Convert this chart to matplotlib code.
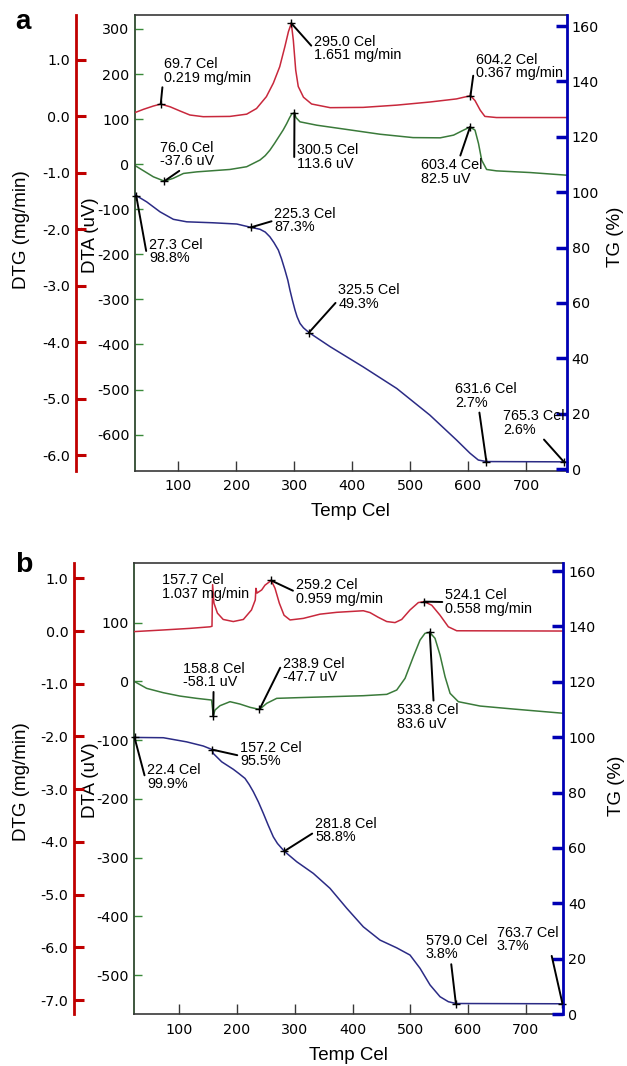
import matplotlib
matplotlib.use('Agg')
import matplotlib.pyplot as plt

plt.rcParams['font.family'] = ['Liberation Sans', 'DejaVu Sans']
plt.rcParams['axes.unicode_minus'] = False

# ---------------- Panel a data ----------------
a_temp_dtg = [22, 40, 57, 69.7, 86, 103, 120, 143, 189, 218, 235, 252, 264, 275, 284, 290,
              295.0, 298.5, 302.6, 307, 316, 330, 362, 419, 477, 534, 580, 604.2, 612, 621,
              629, 649, 770]
a_dtg = [0.055, 0.126, 0.184, 0.219, 0.17, 0.096, 0.025, -0.005, 0.0, 0.04, 0.14, 0.35, 0.59,
         0.88, 1.24, 1.50, 1.651, 1.35, 0.82, 0.53, 0.34, 0.22, 0.155, 0.16, 0.20, 0.255, 0.31,
         0.367, 0.28, 0.11, 0.0, -0.02, -0.02]

a_temp_dta = [24, 40, 57, 76.0, 91, 109, 132, 189, 218, 241, 250, 258, 266, 275, 281, 287, 292,
              296, 300.5, 303, 310, 339, 391, 448, 505, 552, 575, 592, 603.4, 612, 618, 623.5,
              632, 649, 707, 770]
a_dta = [-2, -14.6, -28, -37.6, -31.5, -20.5, -17, -11.7, -5.6, 9.3, 19, 31, 46, 64, 76, 90,
         103, 112, 113.6, 103.5, 94, 86.5, 77, 66.5, 59, 58.5, 64.5, 75.5, 82.5, 75.5, 46, 9,
         -11.7, -14.8, -18.5, -24.4]

a_temp_tg = [25.3, 27.3, 45.5, 68.5, 91.5, 114.5, 160, 201, 225.3, 241, 250, 258, 265, 272.6,
             278, 284, 289, 292.7, 297, 301.4, 305, 310, 316, 325.5, 362, 419, 477, 534, 580,
             603.4, 617.7, 631.6, 765.3, 770]
a_tg = [99.2, 98.8, 96.5, 92.9, 90.2, 89.3, 88.95, 88.5, 87.3, 86.6, 85.6, 83.9, 81.8, 79.1,
        76.0, 71.9, 68.2, 64.6, 60.9, 57.4, 55.0, 52.6, 51.0, 49.3, 44.2, 36.9, 29.1, 19.5,
        10.5, 5.7, 3.25, 2.7, 2.6, 2.6]

a_ann_series = ['dtg', 'dtg', 'dtg', 'dta', 'dta', 'dta', 'tg', 'tg', 'tg', 'tg', 'tg']
a_ann_temp = [69.7, 295.0, 604.2, 76.0, 300.5, 603.4, 27.3, 225.3, 325.5, 631.6, 765.3]
a_ann_value = [0.219, 1.651, 0.367, -37.6, 113.6, 82.5, 98.8, 87.3, 49.3, 2.7, 2.6]

# ---------------- Panel b data ----------------
b_temp_dtg = [23, 72, 118, 153, 156.6, 157.7, 160, 166, 176, 193.5, 211, 225, 231.6, 232.7,
              234.6, 242.7, 248.4, 259.2, 265.8, 273.2, 281.4, 291.8, 314.8, 343.7, 372.6,
              418.7, 430.3, 444.7, 459.3, 473.6, 485.2, 499.6, 514, 524.1, 537.2, 551.6, 566,
              580.5, 766]
b_dtg = [-0.01, 0.02, 0.05, 0.08, 0.09, 0.88, 0.53, 0.34, 0.22, 0.18, 0.22, 0.40, 0.59, 0.81,
         0.72, 0.78, 0.87, 0.959, 0.81, 0.53, 0.30, 0.21, 0.24, 0.32, 0.355, 0.385, 0.35, 0.26,
         0.18, 0.16, 0.22, 0.40, 0.54, 0.558, 0.49, 0.30, 0.08, 0.005, 0.0]

b_temp_dta = [22, 43.5, 72.3, 101, 130, 156, 158.8, 161.8, 170.5, 187.8, 205, 222.5, 238.9,
              251.4, 268.7, 303.4, 361, 418.7, 459.3, 476.6, 491, 505.3, 517, 525.6, 533.8,
              542.9, 551.6, 560.3, 569, 583.3, 621, 678.6, 766]
b_dta = [0, -11.8, -19.2, -24.9, -28.8, -31.7, -58.1, -48.7, -41.3, -34.5, -38.5, -44.1, -47.7,
         -37.3, -28.8, -27.7, -26, -24.3, -22, -14.6, 5.3, 42, 70.5, 82, 83.6, 73.4, 45, 8,
         -20.3, -34.5, -41.9, -47, -54.3]

b_temp_tg = [22, 22.4, 72.3, 112.8, 141.6, 157.2, 158.9, 173.4, 193.5, 203, 213.8, 221, 228.2,
             237, 245.5, 254, 262.8, 270, 281.8, 303.4, 332.1, 361, 390, 418.7, 447.7, 476.6,
             499.6, 517, 534.3, 551.6, 566, 579.0, 763.7, 766]
b_tg = [100.0, 99.9, 99.8, 98.3, 96.8, 95.5, 94.1, 91.1, 88.4, 86.9, 85.1, 82.9, 80.3, 76.6,
        72.5, 68.2, 64.0, 61.6, 58.8, 55.0, 50.8, 45.4, 38.2, 31.5, 26.7, 23.9, 21.3, 16.5,
        10.5, 6.25, 4.45, 3.8, 3.7, 3.7]

b_ann_series = ['dtg', 'dtg', 'dtg', 'dta', 'dta', 'dta', 'tg', 'tg', 'tg', 'tg', 'tg']
b_ann_temp = [157.7, 259.2, 524.1, 158.8, 238.9, 533.8, 22.4, 157.2, 281.8, 579.0, 763.7]
b_ann_value = [1.037, 0.959, 0.558, -58.1, -47.7, 83.6, 99.9, 95.5, 58.8, 3.8, 3.7]

temp_ticks = [100, 200, 300, 400, 500, 600, 700]
tg_ticks = [0, 20, 40, 60, 80, 100, 120, 140, 160]
a_dta_ticks = [300, 200, 100, 0, -100, -200, -300, -400, -500, -600]
a_dtg_ticks = [1.0, 0.0, -1.0, -2.0, -3.0, -4.0, -5.0, -6.0]
b_dta_ticks = [100, 0, -100, -200, -300, -400, -500]
b_dtg_ticks = [1.0, 0.0, -1.0, -2.0, -3.0, -4.0, -5.0, -6.0, -7.0]

# ---------------- styles / layout ----------------
a_ann_offset = [(3.3, -47), (22.7, 11.8), (5.5, -42.7), (-4.4, -40.5), (2.8, 30.3),
                (-49.3, 31.3), (12.8, 42.3), (23.4, -20.6), (29.3, -49.2), (-31.4, -79.2),
                (-61.1, -52.5)]
a_ann_relpos = [(0, 0.5), (0, 0.5), (-0.02, 0.45), (0.43, 0), (-0.05, 0.5), (0.63, 1),
                (-0.05, 0.5), (0, 0.5), (0, 0.4), (0.39, 0), (0.63, 0)]
b_ann_offset = [(-50.9, -3), (24.5, -2.2), (20.9, -13.3), (-30.5, -53.8), (23.8, -52.7),
                (-33, 71), (12.8, 25.9), (27.7, -8.9), (30.7, -34.5), (-30.1, -69.5),
                (-65.8, -78.1)]
b_ann_relpos = [None, (0, 0.5), (0, 0.5), (0.5, 0), (-0.05, 0.6), (0.6, 1), (-0.05, 0.55),
                (0, 0.45), (0, 0.45), (0.41, 0), (0.85, 0.34)]

RED_SP = '#c00000'
RED_C = '#c8283c'
GREEN_SP = '#2f4a2f'
GREEN_TICK = '#3a8a3a'
GREEN_C = '#3a7a3a'
BLUE_SP = '#0000b4'
BLUE_C = '#2b2b85'
FRAME = '#383838'
TICKFONT = dict(fontfamily='DejaVu Sans', fontsize=10.3)

W, H = 627, 1066
fig = plt.figure(figsize=(W / 100, H / 100), dpi=100)


def fmt_label(series, t, v):
    if series == 'dtg':
        return f'{t:.1f} Cel\n{v:.3f} mg/min'
    if series == 'dta':
        return f'{t:.1f} Cel\n{v:.1f} uV'
    return f'{t:.1f} Cel\n{v:.1f}%'


def make_panel(rect, xlim, dta_lim, dtg_lim, tg_lim, dta_ticks, dtg_ticks,
               t_dtg, v_dtg, t_dta, v_dta, t_tg, v_tg,
               ann_series, ann_temp, ann_value, ann_offset, ann_relpos,
               red_out, lab_dtg, lab_dta, lab_tg, xlab_y):
    ax = fig.add_axes(rect)
    axr = ax.twinx()
    axb = ax.twinx()
    ax.set_xlim(xlim)
    ax.set_ylim(dta_lim)
    axr.set_ylim(dtg_lim)
    axb.set_ylim(tg_lim)

    ax.spines['right'].set_visible(False)
    ax.spines['left'].set_color(GREEN_SP)
    ax.spines['left'].set_linewidth(1.3)
    for s in ['top', 'bottom']:
        ax.spines[s].set_color(FRAME)
        ax.spines[s].set_linewidth(1.2)

    for s in ['top', 'bottom', 'right']:
        axr.spines[s].set_visible(False)
    axr.spines['left'].set_visible(True)
    axr.spines['left'].set_position(('outward', red_out))
    axr.spines['left'].set_color(RED_SP)
    axr.spines['left'].set_linewidth(2.0)
    axr.yaxis.tick_left()
    axr.yaxis.set_label_position('left')

    for s in ['top', 'bottom', 'left']:
        axb.spines[s].set_visible(False)
    axb.spines['right'].set_color(BLUE_SP)
    axb.spines['right'].set_linewidth(2.0)

    ax.set_xticks(temp_ticks, [str(t) for t in temp_ticks], **TICKFONT)
    ax.tick_params(axis='x', direction='in', length=7, width=1, color=FRAME, pad=6, top=False)
    ax.set_yticks(dta_ticks, [str(t) for t in dta_ticks], **TICKFONT)
    ax.tick_params(axis='y', direction='in', length=6, width=1, color=GREEN_TICK, pad=4)
    axr.set_yticks(dtg_ticks, [f'{t:.1f}' for t in dtg_ticks], **TICKFONT)
    axr.tick_params(axis='y', direction='in', length=7, width=2.2, color=RED_SP, pad=4.3,
                    left=True, right=False, labelleft=True, labelright=False)
    axb.set_yticks(tg_ticks, [str(t) for t in tg_ticks], **TICKFONT)
    axb.tick_params(axis='y', direction='in', length=8, width=2.5, color=BLUE_SP, pad=3.6)

    axr.set_ylabel('DTG (mg/min)', fontsize=13.5)
    axr.yaxis.set_label_coords(*lab_dtg)
    ax.set_ylabel('DTA (uV)', fontsize=13.5)
    ax.yaxis.set_label_coords(*lab_dta)
    axb.set_ylabel('TG (%)', fontsize=13.5)
    axb.yaxis.set_label_coords(*lab_tg)
    ax.set_xlabel('Temp Cel', fontsize=13.5)
    ax.xaxis.set_label_coords(0.5, xlab_y)

    axr.plot(t_dtg, v_dtg, color=RED_C, lw=1.1)
    ax.plot(t_dta, v_dta, color=GREEN_C, lw=1.1)
    axb.plot(t_tg, v_tg, color=BLUE_C, lw=1.1)

    amap = {'dtg': axr, 'dta': ax, 'tg': axb}
    for s, t, v, off, rp in zip(ann_series, ann_temp, ann_value, ann_offset, ann_relpos):
        a = amap[s]
        kw = dict(xy=(t, v), xytext=(off[0], -off[1]), textcoords='offset pixels',
                  ha='left', va='top', fontsize=10.4, linespacing=0.95,
                  annotation_clip=False, color='k')
        if rp is not None:
            kw['arrowprops'] = dict(arrowstyle='-', color='k', lw=1.4, shrinkA=0, shrinkB=0,
                                    relpos=rp)
            a.plot([t], [v], marker='+', color='k', ms=6, mew=1.0, clip_on=False)
        a.annotate(fmt_label(s, t, v), **kw)
    return ax


make_panel([135 / W, (H - 470.7) / H, 431.7 / W, 455.7 / H],
           (25.3, 770.2), (-680, 331), (-6.278, 1.797), (-0.6, 164),
           a_dta_ticks, a_dtg_ticks,
           a_temp_dtg, a_dtg, a_temp_dta, a_dta, a_temp_tg, a_tg,
           a_ann_series, a_ann_temp, a_ann_value, a_ann_offset, a_ann_relpos,
           42.5, (-0.243, 0.528), (-0.084, 0.517), (1.0933, 0.513), -0.0709)

make_panel([134.3 / W, (H - 1014.3) / H, 429 / W, 451 / H],
           (22.05, 765.1), (-566.9, 201.2), (-7.271, 1.285), (-0.1, 162.8),
           b_dta_ticks, b_dtg_ticks,
           b_temp_dtg, b_dtg, b_temp_dta, b_dta, b_temp_tg, b_tg,
           b_ann_series, b_ann_temp, b_ann_value, b_ann_offset, b_ann_relpos,
           43.2, (-0.242, 0.517), (-0.083, 0.518), (1.104, 0.506), -0.0718)

fig.text(15 / W, 1 - 29 / H, 'a', fontsize=20, fontweight='bold', ha='left', va='baseline')
fig.text(15 / W, 1 - 572 / H, 'b', fontsize=20.5, fontweight='bold', ha='left', va='baseline')

fig.savefig('out.png', dpi=100, facecolor='white')
